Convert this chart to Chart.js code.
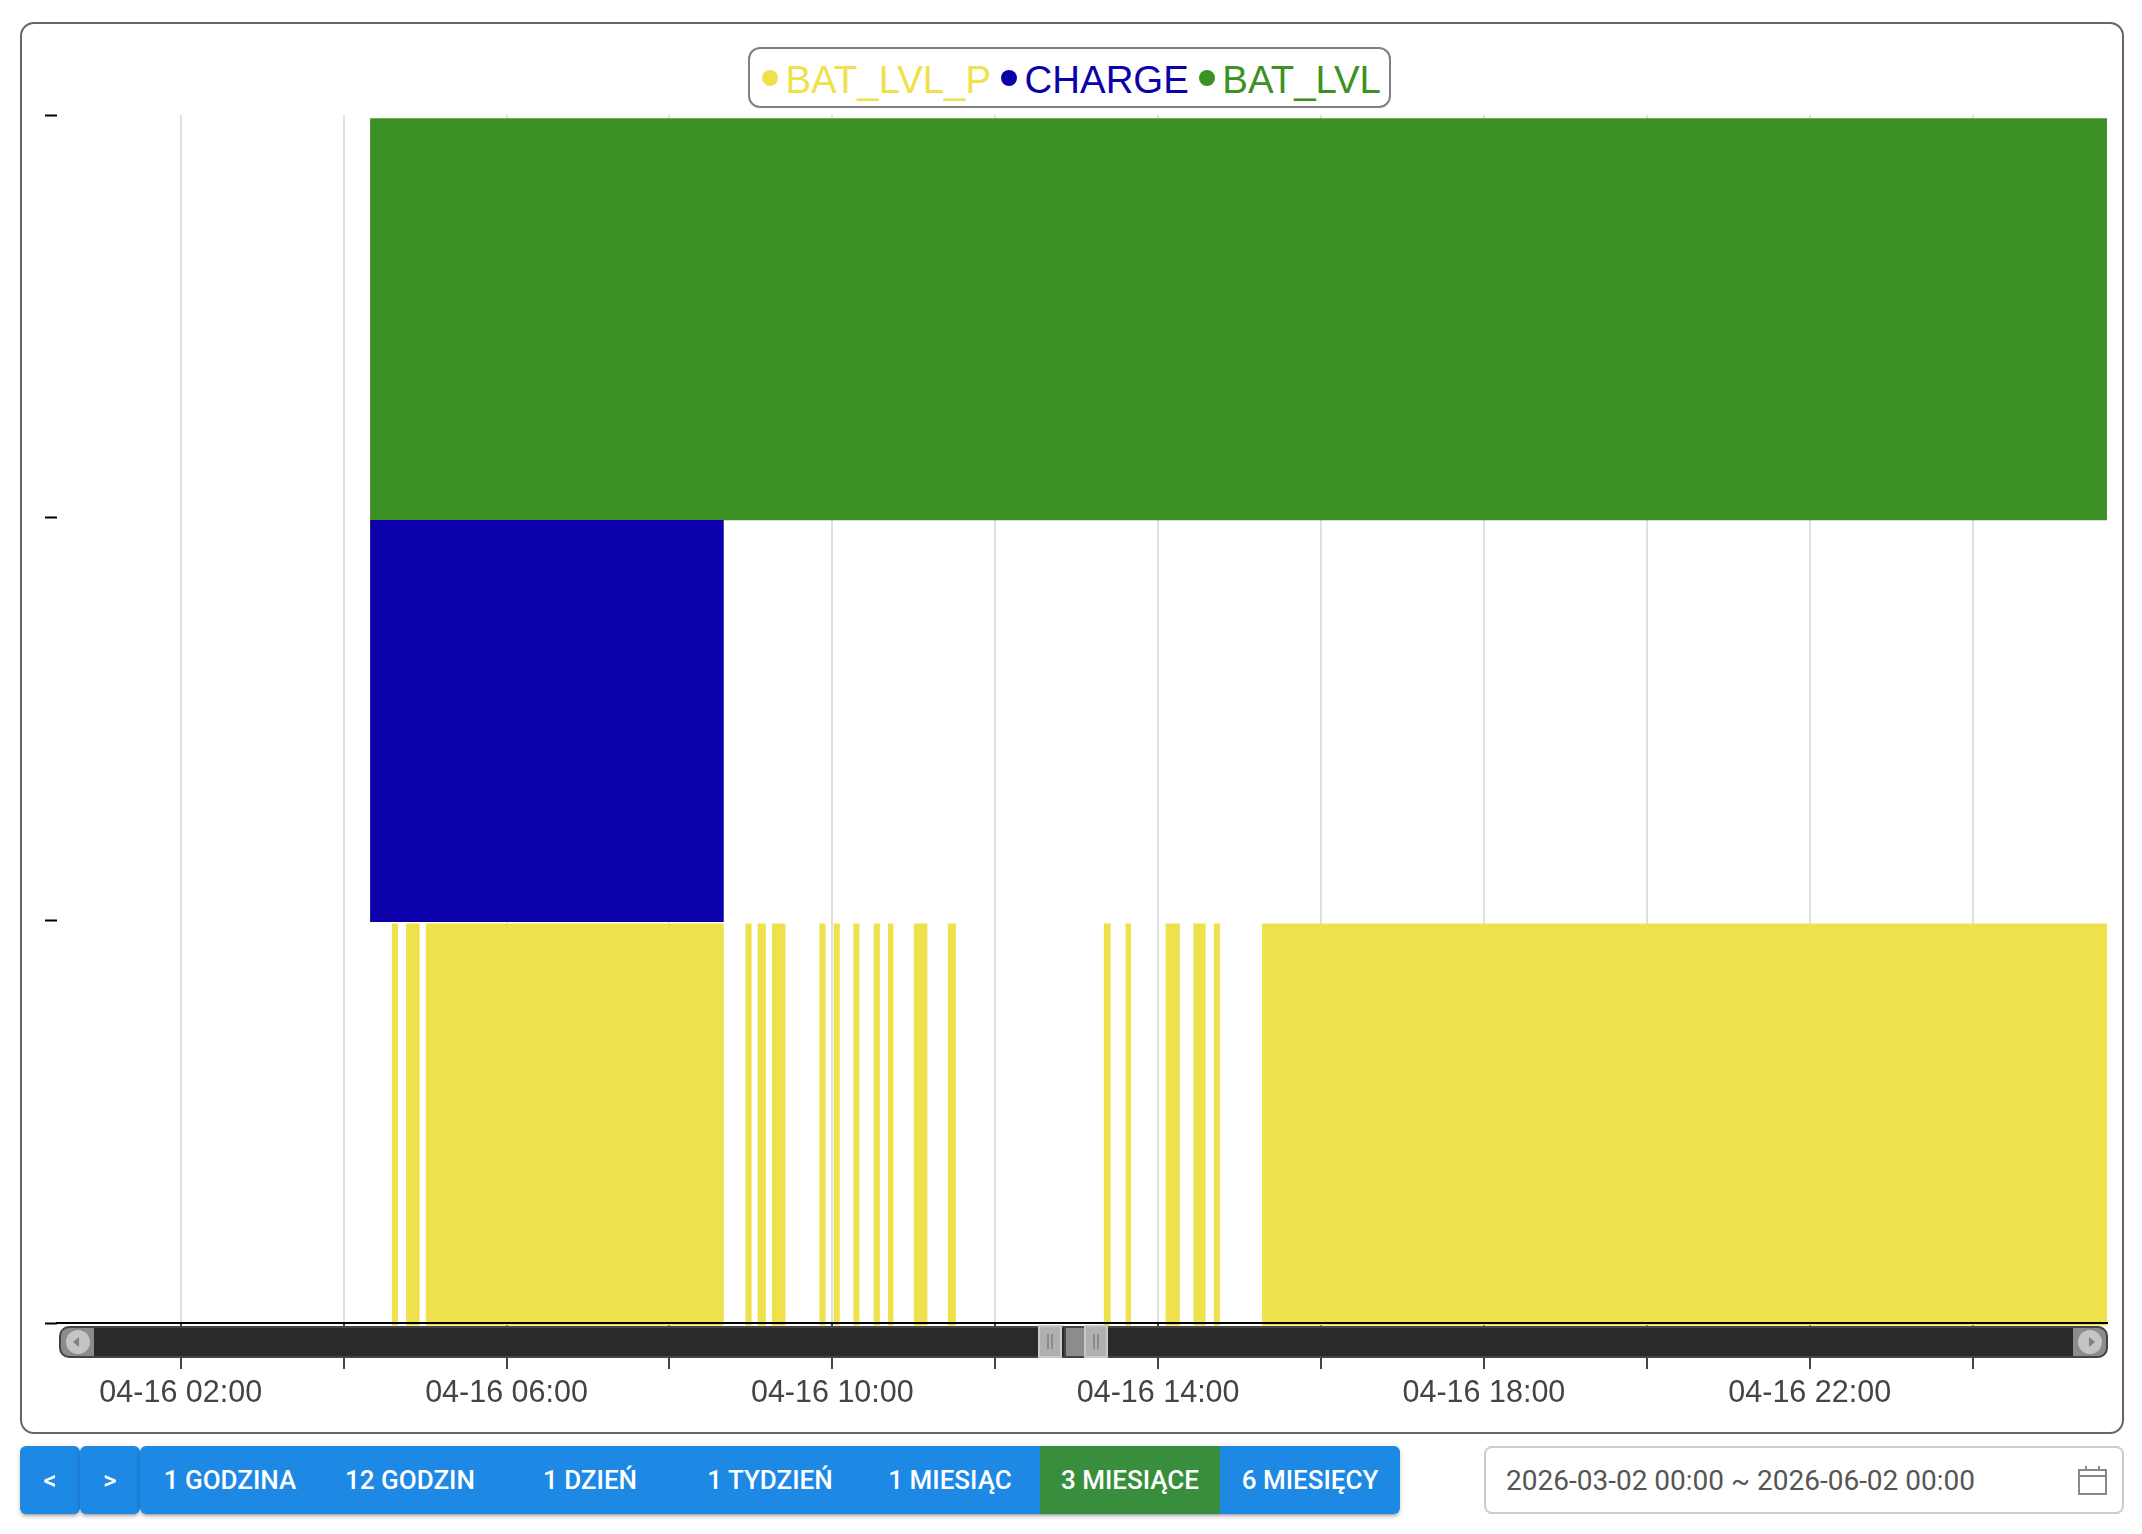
<!DOCTYPE html>
<html lang="pl">
<head>
<meta charset="utf-8">
<title>BAT_LVL</title>
<script src="https://cdn.jsdelivr.net/npm/chart.js@4/dist/chart.umd.min.js"></script>
<style>
    html, body { margin: 0; padding: 0; background: #fff; width: 2142px; height: 1534px; overflow: hidden; }
    body { position: relative; font-family: "Liberation Sans", Arial, sans-serif; }
    .card { position: absolute; left: 20px; top: 22px; width: 2100px; height: 1408px; border: 2px solid #666; border-radius: 14px; }
    canvas { position: absolute; left: 0; top: 0; }

    /* legenda */
    .legend { position: absolute; left: 748px; top: 47px; width: 643px; height: 61px; box-sizing: border-box; border: 2px solid #808080; border-radius: 12px;
              display: flex; align-items: center; padding-left: 12px; font-size: 38.4px; background: #fff; white-space: nowrap; }
    .legend i { width: 16px; height: 16px; border-radius: 50%; margin-right: 7.5px; flex: none; }
    .legend span { margin-right: 10px; position: relative; top: 2px; }

    /* suwak zakresu pod osia */
    .slider { position: absolute; left: 59px; top: 1326px; width: 2045px; height: 28px; background: #2a2a2a; border: 2px solid #444; border-radius: 10px; overflow: hidden; }
    .cap { position: absolute; top: 0; width: 33px; height: 28px; background: #8c8c8c; display: flex; align-items: center; justify-content: center; }
    .cap b { display: block; width: 24px; height: 24px; border-radius: 50%; background: #c4c4c4; position: relative; }
    .cap.left { left: 0; } .cap.right { right: 0; }
    .cap b::after { content: ""; position: absolute; top: 7px; border: 5px solid transparent; }
    .cap.left b::after { left: 2px; border-right: 6px solid #808080; }
    .cap.right b::after { right: 2px; border-left: 6px solid #808080; }
    .handle { position: absolute; top: 1325px; width: 24px; height: 33px; background: #b0b0b0; box-sizing: border-box; border: 2px solid #c8c8c8; }
    .handle::after { content: ""; position: absolute; left: 7px; top: 7px; width: 2px; height: 15px; border-left: 2px solid #8c8c8c; border-right: 2px solid #8c8c8c; }
    .window { position: absolute; left: 1064px; top: 1326px; width: 18px; height: 28px; background: #8c8c8c; border: 2px solid #444; }

    /* przyciski zakresu */
    .btn { position: absolute; top: 1446px; height: 68px; color: #fff; background: #1e88e5; font: 500 26px Roboto, sans-serif;
           display: flex; align-items: center; justify-content: center; white-space: nowrap; }
    .nav { width: 60px; border-radius: 6px; box-shadow: 0 4px 2px -3px rgba(0,0,0,.2), 0 3px 3px 0 rgba(0,0,0,.14), 0 2px 7px 0 rgba(0,0,0,.12); }
    .group { position: absolute; left: 140px; top: 1446px; width: 1260px; height: 68px; border-radius: 6px; overflow: hidden; }
    .groupShadow { position: absolute; left: 140px; top: 1446px; width: 1260px; height: 68px; border-radius: 6px; box-shadow: 0 4px 2px -3px rgba(0,0,0,.2), 0 3px 3px 0 rgba(0,0,0,.14), 0 2px 7px 0 rgba(0,0,0,.12); }
    .group .btn { top: 0; width: 180px; }
    .group .btn.active { background: #388e3c; }

    /* pole daty */
    .dateField { position: absolute; left: 1484px; top: 1446px; width: 636px; height: 64px; border: 2px solid #ccc; border-radius: 8px;
                 font: 400 28px Roboto, sans-serif; color: #555; display: flex; align-items: center; padding-left: 0; }
    .dateField span { margin-left: 20px; }
    .dateField svg { position: absolute; left: 592px; top: 18px; }
</style>
</head>
<body>
<div class="card"></div>
<canvas id="chart" width="2142" height="1440"></canvas>
<div class="legend" id="legend"></div>

<div class="slider">
    <div class="cap left"><b></b></div>
    <div class="cap right"><b></b></div>
</div>
<div class="handle" style="left:1038px"></div>
<div class="window"></div>
<div class="handle" style="left:1084px"></div>

<div class="btn nav" style="left:20px">&lt;</div>
<div class="btn nav" style="left:80px">&gt;</div>
<div class="groupShadow"></div>
<div class="group" id="ranges"></div>

<div class="dateField">
    <span id="dateRange"></span>
    <svg width="30" height="30" viewBox="0 0 30 30" fill="none" stroke="#888" stroke-width="2">
        <rect x="1" y="4" width="27" height="24"/><path d="M1 10H28M8 0V4M21 0V4"/>
    </svg>
</div>

<script>
// ==================== DANE ====================

// kazdy przedzial to [start, koniec] w minutach od polnocy 04-16
const batLvlPSpans = [
    [275.5, 280], [286, 296], [300.5, 520], [536, 540.5], [545, 551], [555.5, 565.5],
    [590.5, 595], [601, 605.5], [615.5, 620], [630.5, 635], [641, 645], [660, 670],
    [685, 691], [800, 805], [816, 820], [845.5, 856], [866, 875], [881, 885.5], [916.5, 1539]
];
const chargeSpans = [[259.5, 520]];
const batLvlSpans = [[259.5, 1539]];

const seriesNames = ['BAT_LVL_P', 'CHARGE', 'BAT_LVL'];
const seriesColors = ['#efe14c', '#0b00a9', '#3b9124'];
const seriesRows = [0.493, 1.495, 2.493];

const xTickMinutes = [120, 240, 360, 480, 600, 720, 840, 960, 1080, 1200, 1320, 1440];
const xTickLabels = ['04-16 02:00', '', '04-16 06:00', '', '04-16 10:00', '', '04-16 14:00', '', '04-16 18:00', '', '04-16 22:00', ''];

const rangeLabels = ['1 GODZINA', '12 GODZIN', '1 DZIEŃ', '1 TYDZIEŃ', '1 MIESIĄC', '3 MIESIĄCE', '6 MIESIĘCY'];
const activeRange = '3 MIESIĄCE';
const dateRangeText = '2026-03-02 00:00 ~ 2026-06-02 00:00';

// ==================== WYKRES ====================

function spansToPoints(spans, row) {
    return spans.map(span => ({ x: span, y: row }));
}

const allSpans = [batLvlPSpans, chargeSpans, batLvlSpans];

const chart = new Chart(document.getElementById('chart'), {
    type: 'bar',
    data: {
        datasets: seriesNames.map((name, i) => ({
            label: name,
            data: spansToPoints(allSpans[i], seriesRows[i]),
            backgroundColor: seriesColors[i],
            borderWidth: 0,
            inflateAmount: 0,
            barThickness: 402,
            grouped: false,
            clip: { left: 0, top: 0, right: 0, bottom: 3 }
        }))
    },
    options: {
        indexAxis: 'y',
        responsive: false,
        animation: false,
        layout: { padding: { left: 45, top: 115, right: 35, bottom: 17 } },
        plugins: { legend: { display: false }, tooltip: { enabled: false } },
        scales: {
            x: {
                type: 'linear',
                min: 28.84,
                max: 1539,
                afterBuildTicks: scale => { scale.ticks = xTickMinutes.map(v => ({ value: v })); },
                afterFit: scale => { scale.height = 100; },
                grid: { color: '#e0e0e0', lineWidth: 2, tickColor: '#444', tickWidth: 2, tickLength: 46 },
                border: { color: '#000', width: 2, z: 1 },
                ticks: {
                    autoSkip: false,
                    maxRotation: 0,
                    minRotation: 0,
                    padding: 6,
                    color: '#444',
                    font: { family: '"Liberation Sans"', size: 30.5 },
                    callback: (value, index) => xTickLabels[index]
                }
            },
            y: {
                type: 'linear',
                min: 0,
                max: 3,
                offset: false,
                grid: { offset: false, drawOnChartArea: false, tickColor: '#000', tickWidth: 2, tickLength: 12 },
                border: { display: false },
                ticks: { display: false, stepSize: 1 }
            }
        }
    }
});

// ==================== INTERFEJS ====================

function renderLegend() {
    document.getElementById('legend').innerHTML = chart.data.datasets.map(ds => `
        <i style="background:${ds.backgroundColor}"></i><span style="color:${ds.backgroundColor}">${ds.label}</span>
    `).join('');
}

function renderRanges() {
    document.getElementById('ranges').innerHTML = rangeLabels.map((label, i) => `
        <div class="btn ${label === activeRange ? 'active' : ''}" style="left:${i * 180}px">${label}</div>
    `).join('');
}

renderLegend();
renderRanges();
document.getElementById('dateRange').textContent = dateRangeText;
</script>
</body>
</html>
